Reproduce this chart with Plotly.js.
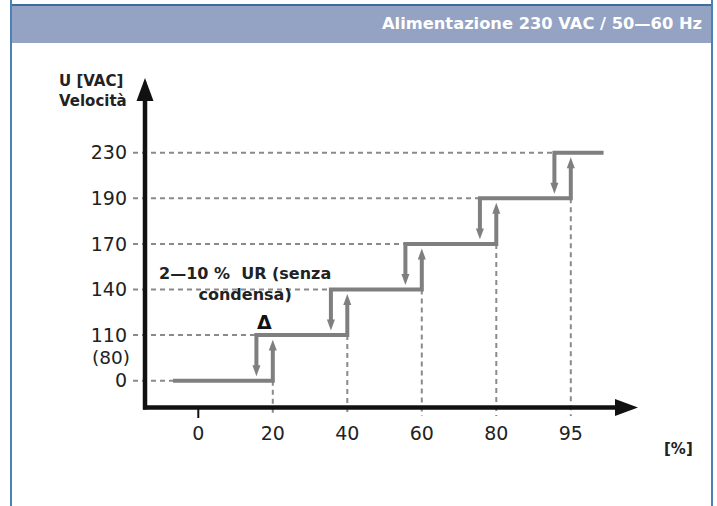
<!DOCTYPE html>
<html><head><meta charset="utf-8">
<script src="https://cdn.plot.ly/plotly-3.0.1.min.js"></script>
<style>html,body{margin:0;padding:0;background:#fff}#chart{width:717px;height:506px}</style>
</head><body><div id="chart"></div>
<script>
// ---------------- data ----------------
const speedLevels   = [0, 110, 140, 170, 190, 230];            // U [VAC] / speed steps
const speedLabels   = ['0', '110', '140', '170', '190', '230'];
const minSpeedLabel = '(80)';
const rhThresholds  = [20, 40, 60, 80, 95];                     // switch-on points [% RH]
const rhTickLabels  = ['0', '20', '40', '60', '80', '95'];
const hysteresisText = '2—10 %\u00A0 UR (senza<br>condensa)';
const deltaText     = 'Δ';
const headerText    = 'Alimentazione 230 VAC / 50—60 Hz';
const yTitleText    = 'U [VAC]<br>Velocità';
const xTitleText    = '[%]';

// ---------------- style / geometry ----------------
const W = 717, H = 506;
const X0 = 198.3, XU = 74.5;     // px of tick 0, px per tick step
const Y0 = 380.7, YU = 45.6;     // px of level 0, px per level step
const GRAY = '#7f7f7f', DASH = '#8a8a8a', BLACK = '#111111';
const HYST = 0.22, TIP_GAP = 0.1, HEAD_LEN = 0.24, HEAD_HW = 0.054;
const START_X = -0.34, END_X = 5.44;
const DASH_LEFT = (133 - X0) / XU, DASH_BOTTOM = (Y0 - 416) / YU;

const px2x = p => p / W, py2y = p => 1 - p / H;   // paper helpers for frame decorations

const xPos = v => rhTickLabels.indexOf(String(v));  // category position of a % value
const yPos = v => speedLevels.indexOf(v);           // category position of a level

// step line with hysteresis
const sx = [], sy = [];
const dx = [], dy = [];
const shapes = [];
speedLevels.forEach((lvl, k) => {
  const y = yPos(lvl);
  const xL = k === 0 ? START_X : xPos(rhThresholds[k - 1]) - HYST;
  const xR = k === speedLevels.length - 1 ? END_X : xPos(rhThresholds[k]);
  if (k > 0) { sx.push(xL); sy.push(y - 1 + TIP_GAP + HEAD_LEN * 0.7); }
  sx.push(xL, xR); sy.push(y, y);
  if (k < speedLevels.length - 1) { sx.push(xR); sy.push(y + 1 - TIP_GAP - HEAD_LEN * 0.7); }
  sx.push(null); sy.push(null);
  // horizontal dashed reference line
  dx.push(DASH_LEFT, xL, null); dy.push(y, y, null);
});
rhThresholds.forEach((t, i) => {
  const x = xPos(t), yLow = yPos(speedLevels[i]), yHigh = yPos(speedLevels[i + 1]);
  // vertical dashed reference line
  dx.push(x, x, null); dy.push(yLow, DASH_BOTTOM, null);
  // up arrow head (switch on)
  const upTip = yHigh - TIP_GAP, upBase = upTip - HEAD_LEN;
  shapes.push({type: 'path', xref: 'x', yref: 'y', fillcolor: GRAY, line: {width: 0},
    path: `M${x - HEAD_HW},${upBase} L${x + HEAD_HW},${upBase} L${x},${upTip} Z`});
  // down arrow head (switch off)
  const xd = x - HYST, dnTip = yLow + TIP_GAP, dnBase = dnTip + HEAD_LEN;
  shapes.push({type: 'path', xref: 'x', yref: 'y', fillcolor: GRAY, line: {width: 0},
    path: `M${xd - HEAD_HW},${dnBase} L${xd + HEAD_HW},${dnBase} L${xd},${dnTip} Z`});
});

// frame + header
shapes.unshift(
  {type: 'rect', xref: 'paper', yref: 'paper', x0: px2x(11), x1: px2x(712), y0: py2y(43), y1: py2y(5),
   fillcolor: '#94a3c3', line: {width: 0}, layer: 'below'},
  {type: 'line', xref: 'paper', yref: 'paper', x0: px2x(11), x1: px2x(712), y0: py2y(5), y1: py2y(5),
   line: {color: '#3b6e9c', width: 2}},
  {type: 'line', xref: 'paper', yref: 'paper', x0: px2x(11), x1: px2x(11), y0: 0, y1: 1,
   line: {color: '#4a82b4', width: 2}},
  {type: 'line', xref: 'paper', yref: 'paper', x0: px2x(712), x1: px2x(712), y0: 0, y1: 1,
   line: {color: '#4a82b4', width: 2}}
);
// axes with arrows
shapes.push(
  {type: 'line', xref: 'paper', yref: 'paper', x0: px2x(145), x1: px2x(145), y0: py2y(409.5), y1: py2y(96),
   line: {color: BLACK, width: 4.5}},
  {type: 'path', xref: 'paper', yref: 'paper', fillcolor: BLACK, line: {width: 0},
   path: `M${px2x(136.5)},${py2y(101)} L${px2x(153.5)},${py2y(101)} L${px2x(145)},${py2y(78)} Z`},
  {type: 'line', xref: 'paper', yref: 'paper', x0: px2x(143), x1: px2x(620), y0: py2y(407.5), y1: py2y(407.5),
   line: {color: BLACK, width: 4.5}},
  {type: 'path', xref: 'paper', yref: 'paper', fillcolor: BLACK, line: {width: 0},
   path: `M${px2x(615)},${py2y(399)} L${px2x(615)},${py2y(416)} L${px2x(638)},${py2y(407.5)} Z`},
  {type: 'line', xref: 'x', yref: 'paper', x0: xPos(0), x1: xPos(0), y0: py2y(407), y1: py2y(418),
   line: {color: BLACK, width: 2}}
);

const traces = [
  {x: dx, y: dy, mode: 'lines', line: {color: DASH, width: 2, dash: '5px,4px'}, hoverinfo: 'skip', connectgaps: false},
  {x: sx, y: sy, mode: 'lines', line: {color: GRAY, width: 4}, hoverinfo: 'skip', connectgaps: false}
];

const yTickVals = speedLevels.map(yPos);

const FONT = 'DejaVu Sans, Verdana, sans-serif';
const bold = s => s.split('<br>').map(t => '<b>' + t + '</b>').join('<br>');
const layout = {
  width: W, height: H, margin: {l: 0, r: 0, t: 0, b: 0},
  paper_bgcolor: '#ffffff', plot_bgcolor: '#ffffff', showlegend: false,
  font: {family: FONT, color: '#222222'},
  xaxis: {range: [-X0 / XU, (W - X0) / XU], anchor: 'free', position: 1 - 407.5 / H,
    showgrid: false, zeroline: false, showline: false, ticks: '',
    tickvals: rhTickLabels.map((_, i) => i), ticktext: rhTickLabels,
    tickfont: {size: 19, color: '#222'}, ticklabelstandoff: 12, fixedrange: true},
  yaxis: {range: [(Y0 - H) / YU, Y0 / YU], anchor: 'free', position: 145 / W,
    showgrid: false, zeroline: false, showline: false, ticks: '',
    tickvals: yTickVals, ticktext: speedLabels,
    tickfont: {size: 19, color: '#222'}, ticklabelstandoff: 18, fixedrange: true},
  shapes: shapes,
  annotations: [
    {xref: 'paper', yref: 'paper', x: px2x(704), y: py2y(24), xanchor: 'right', yanchor: 'middle',
     text: bold(headerText), showarrow: false, font: {size: 16.3, color: '#ffffff'}},
    {xref: 'paper', yref: 'paper', x: px2x(57), y: py2y(91), xanchor: 'left', yanchor: 'middle', align: 'left',
     text: bold(yTitleText), showarrow: false, font: {size: 15, color: '#222'}},
    {xref: 'paper', yref: 'paper', x: px2x(678), y: py2y(449), xanchor: 'center', yanchor: 'middle',
     text: bold(xTitleText), showarrow: false, font: {size: 15, color: '#222'}},
    {xref: 'paper', yref: 'y', x: px2x(132), y: 0.5, xanchor: 'right', yanchor: 'middle',
     text: minSpeedLabel, showarrow: false, font: {size: 18.5, color: '#222'}},
    {xref: 'paper', yref: 'paper', x: px2x(245), y: py2y(284), xanchor: 'center', yanchor: 'middle', align: 'center',
     text: bold(hysteresisText), showarrow: false, font: {size: 16, color: '#222'}},
    {xref: 'x', yref: 'paper', x: xPos(rhThresholds[0]) - HYST / 2, y: py2y(322), xanchor: 'center', yanchor: 'middle',
     text: '<b>' + deltaText + '</b>', showarrow: false, font: {size: 19, color: '#111'}}
  ]
};

Plotly.newPlot('chart', traces, layout, {staticPlot: true, displayModeBar: false});
</script>
</body></html>
